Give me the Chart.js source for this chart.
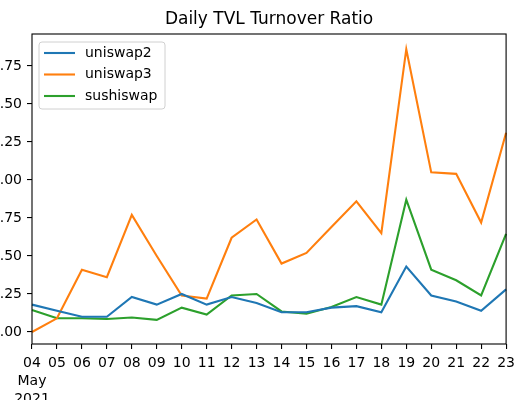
<!DOCTYPE html>
<html>
<head>
<meta charset="utf-8">
<title>Daily TVL Turnover Ratio</title>
<script src="https://cdn.jsdelivr.net/npm/chart.js@4/dist/chart.umd.min.js"></script>
<style>
    html, body { margin: 0; padding: 0; background: #fff; overflow: hidden; }
    #chart { display: block; }
</style>
</head>
<body>
<canvas id="chart" width="520" height="400"></canvas>
<script>
// days of May 2021
const days = ['04', '05', '06', '07', '08', '09', '10', '11', '12', '13',
              '14', '15', '16', '17', '18', '19', '20', '21', '22', '23'];

const uniswap2 = [0.18, 0.14, 0.10, 0.10, 0.23, 0.18, 0.25, 0.18, 0.23, 0.19,
                  0.13, 0.13, 0.16, 0.17, 0.13, 0.43, 0.24, 0.20, 0.14, 0.28];
const uniswap3 = [0.00, 0.09, 0.41, 0.36, 0.77, 0.50, 0.24, 0.22, 0.62, 0.74,
                  0.45, 0.52, 0.69, 0.86, 0.65, 1.86, 1.05, 1.04, 0.72, 1.31];
const sushiswap = [0.145, 0.09, 0.09, 0.085, 0.095, 0.08, 0.16, 0.115, 0.24, 0.25,
                   0.135, 0.12, 0.165, 0.23, 0.18, 0.87, 0.41, 0.34, 0.24, 0.645];

const yTicks = [0, 0.25, 0.5, 0.75, 1.0, 1.25, 1.5, 1.75];
const yMin = -0.079;
const yMax = 1.96;

const titleText = 'Daily TVL Turnover Ratio';
const FONT = "'DejaVu Sans', sans-serif";

// first tick also carries month and year, like matplotlib's date formatter
const xLabels = days.map((d, i) => i === 0 ? [d, 'May', '2021'] : d);

// title centred over the axes, full frame, legend box inside the plot
const framePlugin = {
    id: 'frame',
    afterDatasetsDraw(chart) {
        const { ctx, chartArea: a } = chart;
        ctx.save();
        ctx.strokeStyle = '#000';
        ctx.lineWidth = 1.1;
        ctx.strokeRect(a.left, a.top, a.right - a.left, a.bottom - a.top);
        ctx.restore();
    },
    afterDraw(chart) {
        const { ctx, chartArea: a } = chart;
        const sets = chart.data.datasets;

        ctx.save();
        ctx.font = '17px ' + FONT;
        ctx.fillStyle = '#000';
        ctx.textAlign = 'center';
        ctx.textBaseline = 'middle';
        ctx.fillText(titleText, (a.left + a.right) / 2, 20);

        const bx = a.left + 7, by = a.top + 8, bw = 126, bh = 67;
        ctx.beginPath();
        ctx.roundRect(bx, by, bw, bh, 3);
        ctx.fillStyle = 'rgba(255,255,255,0.8)';
        ctx.fill();
        ctx.strokeStyle = '#d0d0d0';
        ctx.lineWidth = 1;
        ctx.stroke();
        ctx.font = '14px ' + FONT;
        ctx.textAlign = 'left';
        sets.forEach((ds, i) => {
            const y = by + 11 + i * 21.5;
            ctx.strokeStyle = ds.borderColor;
            ctx.lineWidth = 2.1;
            ctx.beginPath();
            ctx.moveTo(bx + 5, y);
            ctx.lineTo(bx + 36, y);
            ctx.stroke();
            ctx.fillStyle = '#000';
            ctx.fillText(ds.label, bx + 46, y);
        });
        ctx.restore();
    }
};

const lineStyle = { borderWidth: 2.1, pointRadius: 0, tension: 0, fill: false };

new Chart(document.getElementById('chart'), {
    type: 'line',
    data: {
        labels: xLabels,
        datasets: [
            { label: 'uniswap2', data: uniswap2, borderColor: '#1f77b4', ...lineStyle },
            { label: 'uniswap3', data: uniswap3, borderColor: '#ff7f0e', ...lineStyle },
            { label: 'sushiswap', data: sushiswap, borderColor: '#2ca02c', ...lineStyle }
        ]
    },
    options: {
        responsive: false,
        animation: false,
        layout: { autoPadding: false, padding: { left: 0, right: 10, top: 34, bottom: 0 } },
        plugins: {
            legend: { display: false },
            tooltip: { enabled: false },
            title: { display: false }
        },
        scales: {
            x: {
                offset: false,
                border: { display: false },
                grid: { drawOnChartArea: false, drawTicks: true, tickLength: 5, color: '#000', lineWidth: 1.1 },
                ticks: {
                    autoSkip: false, maxRotation: 0, minRotation: 0, padding: 5,
                    color: '#000',
                    font: { family: FONT, size: 14, lineHeight: 1.3 }
                },
                afterFit(scale) { scale.height = 56; }
            },
            y: {
                min: yMin,
                max: yMax,
                border: { display: false },
                grid: { drawOnChartArea: false, drawTicks: true, tickLength: 5, color: '#000', lineWidth: 1.1 },
                ticks: {
                    padding: 5,
                    color: '#000',
                    font: { family: FONT, size: 14 },
                    callback: v => v.toFixed(2)
                },
                afterBuildTicks(scale) { scale.ticks = yTicks.map(v => ({ value: v })); },
                afterFit(scale) { scale.width = 32; }
            }
        }
    },
    plugins: [framePlugin]
});
</script>
</body>
</html>
